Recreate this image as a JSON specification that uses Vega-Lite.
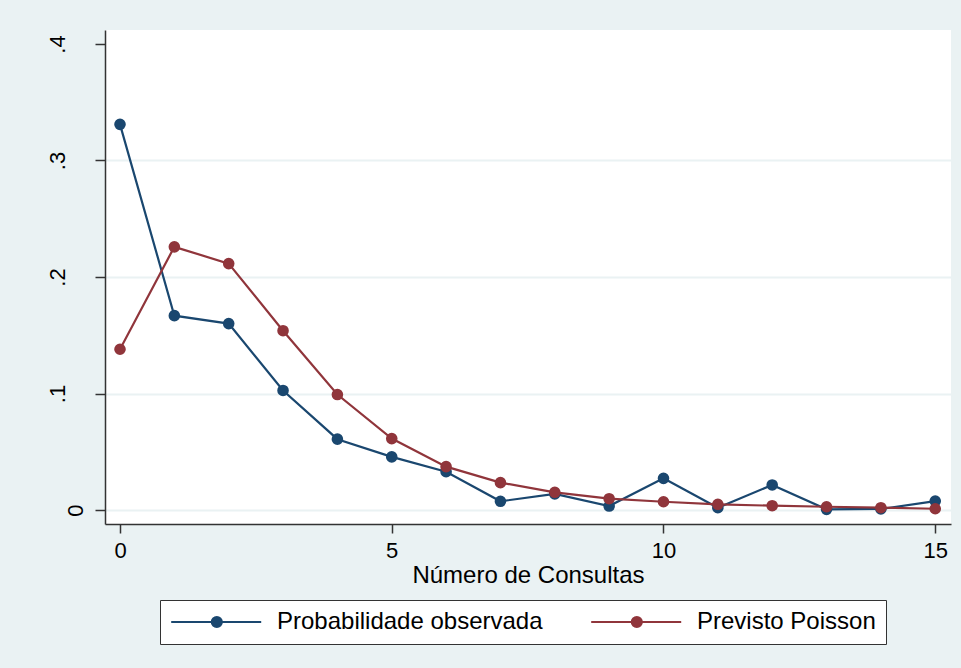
{
  "$schema": "https://vega.github.io/schema/vega-lite/v6.json",
  "width": 846,
  "height": 494,
  "autosize": {"type": "none"},
  "padding": {"left": 105, "top": 30, "right": 10, "bottom": 144},
  "background": "#eaf2f3",
  "config": {
    "view": {"fill": "white", "stroke": null},
    "font": "Liberation Sans",
    "axis": {"labelColor": "black", "titleColor": "black", "domainColor": "#333333", "tickColor": "#333333", "domainWidth": 1.5, "tickWidth": 1.5, "labelFont": "Liberation Sans", "titleFont": "Liberation Sans"}
  },
  "data": {
    "values": [
      {"x": 0, "p": 0.331, "serie": "Probabilidade observada"},
      {"x": 1, "p": 0.1668, "serie": "Probabilidade observada"},
      {"x": 2, "p": 0.160, "serie": "Probabilidade observada"},
      {"x": 3, "p": 0.1026, "serie": "Probabilidade observada"},
      {"x": 4, "p": 0.0608, "serie": "Probabilidade observada"},
      {"x": 5, "p": 0.0456, "serie": "Probabilidade observada"},
      {"x": 6, "p": 0.0329, "serie": "Probabilidade observada"},
      {"x": 7, "p": 0.0075, "serie": "Probabilidade observada"},
      {"x": 8, "p": 0.0138, "serie": "Probabilidade observada"},
      {"x": 9, "p": 0.0034, "serie": "Probabilidade observada"},
      {"x": 10, "p": 0.0272, "serie": "Probabilidade observada"},
      {"x": 11, "p": 0.002, "serie": "Probabilidade observada"},
      {"x": 12, "p": 0.0215, "serie": "Probabilidade observada"},
      {"x": 13, "p": 0.0006, "serie": "Probabilidade observada"},
      {"x": 14, "p": 0.0009, "serie": "Probabilidade observada"},
      {"x": 15, "p": 0.0077, "serie": "Probabilidade observada"},
      {"x": 0, "p": 0.138, "serie": "Previsto Poisson"},
      {"x": 1, "p": 0.2259, "serie": "Previsto Poisson"},
      {"x": 2, "p": 0.2115, "serie": "Previsto Poisson"},
      {"x": 3, "p": 0.1539, "serie": "Previsto Poisson"},
      {"x": 4, "p": 0.0991, "serie": "Previsto Poisson"},
      {"x": 5, "p": 0.0613, "serie": "Previsto Poisson"},
      {"x": 6, "p": 0.0372, "serie": "Previsto Poisson"},
      {"x": 7, "p": 0.0235, "serie": "Previsto Poisson"},
      {"x": 8, "p": 0.0152, "serie": "Previsto Poisson"},
      {"x": 9, "p": 0.0097, "serie": "Previsto Poisson"},
      {"x": 10, "p": 0.0071, "serie": "Previsto Poisson"},
      {"x": 11, "p": 0.0049, "serie": "Previsto Poisson"},
      {"x": 12, "p": 0.0037, "serie": "Previsto Poisson"},
      {"x": 13, "p": 0.0028, "serie": "Previsto Poisson"},
      {"x": 14, "p": 0.002, "serie": "Previsto Poisson"},
      {"x": 15, "p": 0.0011, "serie": "Previsto Poisson"}
    ]
  },
  "encoding": {
    "x": {
      "field": "x", "type": "quantitative",
      "scale": {"domain": [-0.276, 15.29], "nice": false, "zero": false},
      "axis": {
        "values": [0, 5, 10, 15], "grid": false, "tickSize": 9, "labelFontSize": 22,
        "labelPadding": 7, "labelFlush": false, "title": "Número de Consultas",
        "titleFontSize": 24, "titleFontWeight": "normal", "titlePadding": 2
      }
    },
    "y": {
      "field": "p", "type": "quantitative",
      "scale": {"domain": [-0.012, 0.412], "nice": false, "zero": false},
      "axis": {
        "values": [0, 0.1, 0.2, 0.3, 0.4], "title": null, "tickSize": 10,
        "labelAngle": 270, "labelAlign": "center", "labelBaseline": "bottom",
        "labelPadding": {"condition": {"test": "datum.value == 0", "value": 8}, "value": 26},
        "labelFontSize": 22, "labelFlush": false,
        "labelExpr": "datum.value == 0 ? '0' : replace(format(datum.value, '.1f'), '0.', '.')",
        "grid": true, "gridWidth": 2,
        "gridColor": {"condition": {"test": "datum.value > 0.35", "value": "transparent"}, "value": "#eaf2f3"}
      }
    },
    "color": {
      "field": "serie", "type": "nominal",
      "scale": {"domain": ["Probabilidade observada", "Previsto Poisson"], "range": ["#1a476f", "#90353b"]},
      "legend": {
        "title": null, "orient": "none", "legendX": 55, "legendY": 570,
        "direction": "horizontal", "columns": 2, "columnPadding": 44,
        "strokeColor": "#333333", "fillColor": "white", "padding": 10,
        "symbolType": "M-1.8,0H13.2M4.95,0A0.85,0.85,0,1,0,6.65,0A0.85,0.85,0,1,0,4.95,0Z",
        "symbolSize": 144, "symbolStrokeWidth": 2, "labelOffset": 83, "labelLimit": 0,
        "labelFontSize": 24, "labelFont": "Liberation Sans", "labelColor": "black",
        "encode": {"symbols": {"update": {"fill": {"scale": "color", "field": "value"}, "stroke": {"scale": "color", "field": "value"}, "opacity": {"value": 1}}}}
      }
    }
  },
  "layer": [
    {"transform": [{"filter": "datum.serie == 'Probabilidade observada'"}], "mark": {"type": "line", "strokeWidth": 2.2}},
    {"transform": [{"filter": "datum.serie == 'Probabilidade observada'"}], "mark": {"type": "point", "filled": true, "size": 135, "opacity": 1}},
    {"transform": [{"filter": "datum.serie == 'Previsto Poisson'"}], "mark": {"type": "line", "strokeWidth": 2.2}},
    {"transform": [{"filter": "datum.serie == 'Previsto Poisson'"}], "mark": {"type": "point", "filled": true, "size": 135, "opacity": 1}}
  ]
}
